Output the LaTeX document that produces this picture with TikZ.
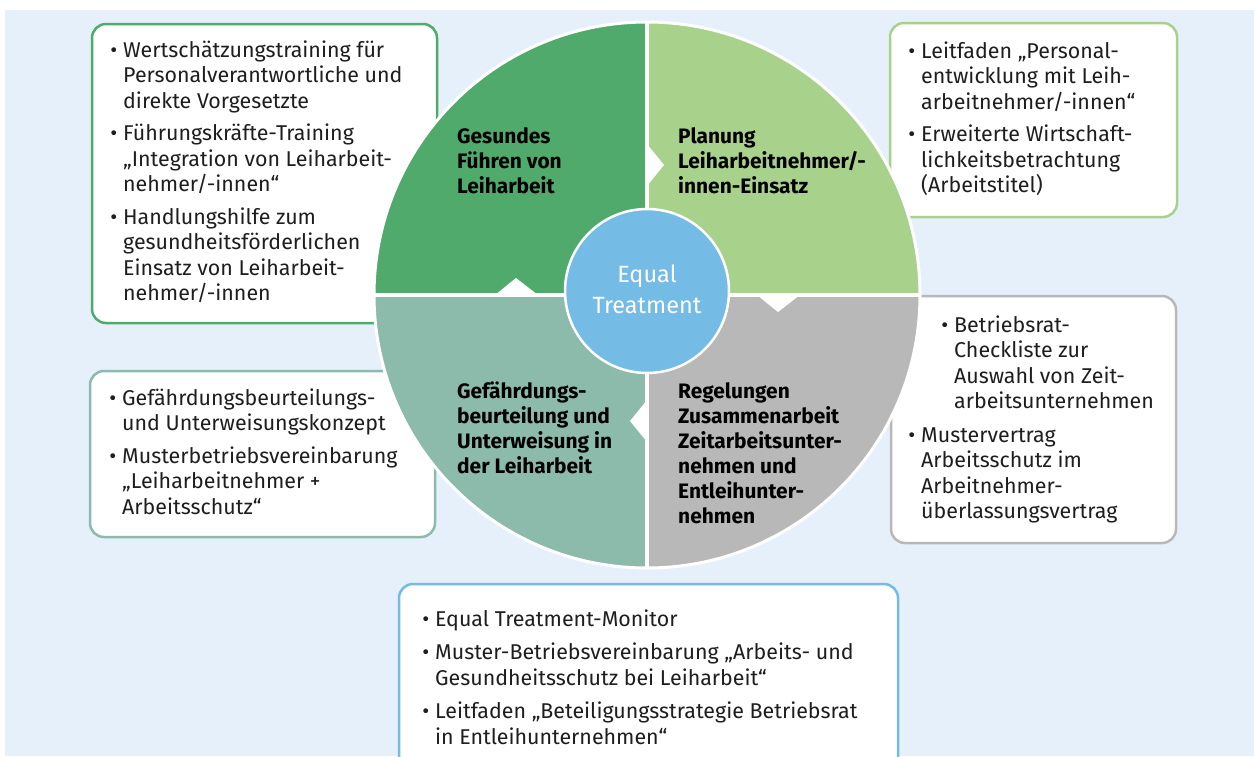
\documentclass[tikz,border=0pt]{standalone}
\usepackage{fontspec}
\setmainfont{Fira Sans}

\definecolor{bgblue}{RGB}{230,240,250}
\definecolor{qgreen}{RGB}{79,170,108}
\definecolor{qlight}{RGB}{168,209,140}
\definecolor{qteal}{RGB}{140,187,171}
\definecolor{qgrey}{RGB}{184,184,184}
\definecolor{eqblue}{RGB}{116,187,230}
\definecolor{ink}{RGB}{30,30,30}

\newcommand{\bul}{\llap{\textbullet\hspace{6pt}}}
\newcommand{\tops}{\rule{0pt}{17pt}}

\begin{document}
\begin{tikzpicture}[x=1pt,y=-1pt,every node/.style={inner sep=0pt},
  infobox/.style={line width=2.5pt,rounded corners=14pt,fill=white},
  itemtext/.style={anchor=north west,align=left,text=ink,font=\fontsize{21.4}{25.5}\selectfont},
  quartext/.style={anchor=north west,align=left,text=black,font=\bfseries\fontsize{20.9}{25}\selectfont}]
\useasboundingbox (0,0) rectangle (1254,756);
\fill[bgblue] (5,10) rectangle (1254,756);

% boxes behind the circle
\draw[infobox,draw=qgreen] (92,24) rectangle (437,323);
\draw[infobox,draw=qlight] (890,23) rectangle (1177,217);
\draw[infobox,draw=qteal] (90,371) rectangle (435,537);
\draw[infobox,draw=qgrey] (891,296) rectangle (1176,543);
\draw[infobox,draw=eqblue] (399,584) rectangle (898,800);

% the four quarters
\coordinate (c) at (647,295);
\begin{scope}
\clip (c) circle (273);
\fill[qgreen] (c) rectangle ++(-280,-280);
\fill[qlight] (c) rectangle ++(280,-280);
\fill[qteal] (c) rectangle ++(-280,280);
\fill[qgrey] (c) rectangle ++(280,280);
\end{scope}
\draw[white,line width=3pt] (c) circle (273);
\draw[white,line width=4pt] (647,22) -- (647,568);
\draw[white,line width=4pt] (374,295) -- (920,295);
\fill[white] (495,295) -- (516,278) -- (538,295) -- cycle;
\fill[white] (647,144) -- (664,165) -- (647,186) -- cycle;
\fill[white] (800,295) -- (778,312) -- (757,295) -- cycle;
\fill[white] (647,442) -- (630,421) -- (647,400) -- cycle;

\node[circle,fill=eqblue,draw=white,line width=2.5pt,minimum size=164pt] (eq) at (647,291) {};
\node[anchor=north,align=center,text=white,font=\fontsize{23.5}{31}\selectfont] (eqtext) at (647,264) {\rule{0pt}{18pt}Equal\\Treatment};

\node[quartext] (qtl) at (457,126) {\tops Gesundes\\Führen von\\Leiharbeit};
\node[quartext] (qtr) at (678,126) {\tops Planung\\Leiharbeitnehmer/-\\innen-Einsatz};
\node[quartext] (qbl) at (457,381) {\tops Gefährdungs-\\beurteilung und\\Unterweisung in\\der Leiharbeit};
\node[quartext] (qbr) at (678,381) {\tops Regelungen\\Zusammenarbeit\\Zeitarbeitsunter-\\nehmen und\\Entleihunter-\\nehmen};

% lists
\node[itemtext] (ltl) at (123,40) {\tops\bul Wertschätzungstraining für\\Personalverantwortliche und\\direkte Vorgesetzte\\[7pt]\bul Führungskräfte-Training\\„Integration von Leiharbeit-\\nehmer/-innen“\\[7pt]\bul Handlungshilfe zum\\gesundheitsförderlichen\\Einsatz von Leiharbeit-\\nehmer/-innen};
\node[itemtext] (ltr) at (921,41) {\tops\bul Leitfaden „Personal-\\entwicklung mit Leih-\\arbeitnehmer/-innen“\\[7pt]\bul Erweiterte Wirtschaft-\\lichkeitsbetrachtung\\(Arbeitstitel)};
\node[itemtext] (lml) at (122,388) {\tops\bul Gefährdungsbeurteilungs-\\und Unterweisungskonzept\\[7pt]\bul Musterbetriebsvereinbarung\\„Leiharbeitnehmer +\\Arbeitsschutz“};
\node[itemtext] (lmr1) at (954,315) {\tops\bul Betriebsrat-\\Checkliste zur\\Auswahl von Zeit-\\arbeitsunternehmen};
\node[itemtext] (lmr2) at (921,425) {\tops\bul Mustervertrag\\Arbeitsschutz im\\Arbeitnehmer-\\überlassungsvertrag};
\node[itemtext] (lbot) at (435,609) {\tops\bul Equal Treatment-Monitor\\[8pt]\bul Muster-Betriebsvereinbarung „Arbeits- und\\Gesundheitsschutz bei Leiharbeit“\\[8pt]\bul Leitfaden „Beteiligungsstrategie Betriebsrat\\in Entleihunternehmen“};
\end{tikzpicture}
\end{document}
